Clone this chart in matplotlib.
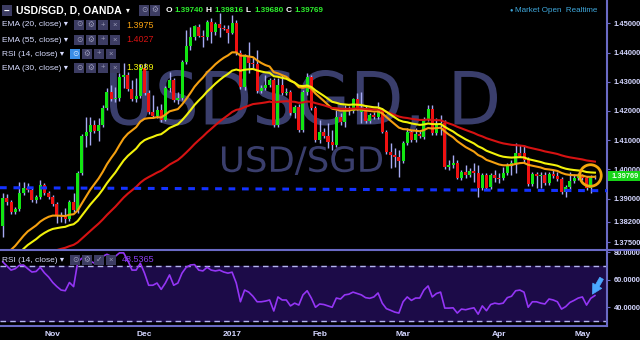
import numpy as np
import pandas as pd
import matplotlib
matplotlib.use('Agg')
import matplotlib.pyplot as plt
from matplotlib import font_manager
from matplotlib.textpath import TextPath
from matplotlib.patches import PathPatch, Rectangle
from matplotlib.transforms import Affine2D
from matplotlib.lines import Line2D

# 字体：优先窄体
names = {f.name for f in font_manager.fontManager.ttflist}
FONT = 'Liberation Sans Narrow' if 'Liberation Sans Narrow' in names else 'Liberation Sans'
plt.rcParams['font.family'] = [FONT, 'DejaVu Sans']

# ---------------- data ----------------
holidays = ['2016-12-26', '2017-01-02']
dates = pd.bdate_range('2016-10-14', '2017-05-04')
dates = dates[~dates.isin(pd.to_datetime(holidays))]

opens = [
    1.3806, 1.3902, 1.3888, 1.3854, 1.3864, 1.3919, 1.3936, 1.3929, 1.3895, 1.3905,
    1.3946, 1.3919, 1.3905, 1.3881, 1.3840, 1.3837, 1.3830, 1.3888, 1.3861, 1.3987,
    1.4114, 1.4128, 1.4152, 1.4131, 1.4152, 1.4210, 1.4265, 1.4241, 1.4245, 1.4317,
    1.4323, 1.4275, 1.4241, 1.4251, 1.4347, 1.4262, 1.4197, 1.4183, 1.4203, 1.4169,
    1.4279, 1.4306, 1.4238, 1.4245, 1.4368, 1.4423, 1.4454, 1.4488, 1.4457, 1.4454,
    1.4505, 1.4471, 1.4498, 1.4484, 1.4481, 1.4467, 1.4502, 1.4399, 1.4282, 1.4388,
    1.4364, 1.4361, 1.4269, 1.4279, 1.4289, 1.4306, 1.4152, 1.4289, 1.4262, 1.4265,
    1.4193, 1.4214, 1.4135, 1.4265, 1.4317, 1.4210, 1.4101, 1.4128, 1.4114, 1.4094,
    1.4083, 1.4179, 1.4162, 1.4203, 1.4200, 1.4241, 1.4197, 1.4207, 1.4166, 1.4186,
    1.4179, 1.4203, 1.4128, 1.4059, 1.4049, 1.4042, 1.4029, 1.4090, 1.4128, 1.4101,
    1.4121, 1.4111, 1.4173, 1.4207, 1.4125, 1.4152, 1.4159, 1.4008, 1.4015, 1.4022,
    1.3970, 1.3991, 1.3981, 1.3994, 1.3987, 1.3936, 1.3981, 1.3939, 1.3981, 1.3970,
    1.3970, 1.3987, 1.4011, 1.4022, 1.4056, 1.4056, 1.4035, 1.3950, 1.3984, 1.3977,
    1.3981, 1.3953, 1.3984, 1.3977, 1.3967, 1.3922, 1.3939, 1.3960, 1.3970, 1.3977,
    1.3970, 1.3936, 1.3974]
highs = [
    1.3919, 1.3915, 1.3895, 1.3871, 1.3957, 1.3957, 1.3953, 1.3936, 1.3912, 1.3963,
    1.3953, 1.3926, 1.3912, 1.3888, 1.3854, 1.3867, 1.3895, 1.3919, 1.3994, 1.4121,
    1.4179, 1.4179, 1.4169, 1.4176, 1.4221, 1.4279, 1.4289, 1.4282, 1.4330, 1.4364,
    1.4334, 1.4306, 1.4313, 1.4361, 1.4364, 1.4272, 1.4255, 1.4217, 1.4224, 1.4286,
    1.4334, 1.4313, 1.4265, 1.4375, 1.4478, 1.4488, 1.4495, 1.4498, 1.4478, 1.4512,
    1.4519, 1.4505, 1.4536, 1.4495, 1.4495, 1.4529, 1.4512, 1.4409, 1.4395, 1.4436,
    1.4385, 1.4409, 1.4289, 1.4323, 1.4313, 1.4313, 1.4313, 1.4323, 1.4279, 1.4272,
    1.4221, 1.4224, 1.4272, 1.4330, 1.4323, 1.4217, 1.4169, 1.4142, 1.4159, 1.4135,
    1.4203, 1.4193, 1.4221, 1.4217, 1.4245, 1.4262, 1.4265, 1.4221, 1.4193, 1.4197,
    1.4231, 1.4210, 1.4135, 1.4090, 1.4073, 1.4066, 1.4097, 1.4142, 1.4135, 1.4142,
    1.4131, 1.4179, 1.4221, 1.4221, 1.4176, 1.4186, 1.4169, 1.4032, 1.4049, 1.4032,
    1.3998, 1.4015, 1.4005, 1.4022, 1.4015, 1.3987, 1.3987, 1.3987, 1.3998, 1.3987,
    1.4008, 1.4022, 1.4032, 1.4090, 1.4083, 1.4083, 1.4042, 1.3991, 1.3991, 1.3991,
    1.3991, 1.3991, 1.3998, 1.3991, 1.3974, 1.3946, 1.3991, 1.3984, 1.3987, 1.3984,
    1.3977, 1.3981, 1.39816]
lows = [
    1.3768, 1.3878, 1.3847, 1.3847, 1.3857, 1.3912, 1.3922, 1.3888, 1.3885, 1.3898,
    1.3912, 1.3898, 1.3874, 1.3816, 1.3819, 1.3816, 1.3823, 1.3854, 1.3850, 1.3981,
    1.4077, 1.4083, 1.4125, 1.4097, 1.4145, 1.4203, 1.4234, 1.4231, 1.4234, 1.4279,
    1.4269, 1.4234, 1.4231, 1.4245, 1.4255, 1.4190, 1.4176, 1.4176, 1.4162, 1.4166,
    1.4265, 1.4231, 1.4224, 1.4238, 1.4361, 1.4409, 1.4443, 1.4454, 1.4419, 1.4443,
    1.4433, 1.4460, 1.4454, 1.4478, 1.4433, 1.4464, 1.4392, 1.4275, 1.4272, 1.4330,
    1.4347, 1.4262, 1.4262, 1.4272, 1.4282, 1.4145, 1.4145, 1.4255, 1.4255, 1.4186,
    1.4176, 1.4128, 1.4128, 1.4255, 1.4203, 1.4094, 1.4090, 1.4107, 1.4073, 1.4066,
    1.4077, 1.4152, 1.4145, 1.4186, 1.4193, 1.4203, 1.4159, 1.4159, 1.4159, 1.4173,
    1.4173, 1.4125, 1.4053, 1.4005, 1.4008, 1.3974, 1.4022, 1.4083, 1.4094, 1.4094,
    1.4107, 1.4104, 1.4166, 1.4118, 1.4118, 1.4118, 1.4001, 1.3998, 1.4005, 1.3967,
    1.3963, 1.3970, 1.3974, 1.3957, 1.3905, 1.3929, 1.3929, 1.3933, 1.3957, 1.3953,
    1.3963, 1.3981, 1.3981, 1.3987, 1.4042, 1.4022, 1.3943, 1.3943, 1.3936, 1.3936,
    1.3946, 1.3946, 1.3970, 1.3960, 1.3915, 1.3905, 1.3933, 1.3953, 1.3963, 1.3963,
    1.3929, 1.3919, 1.3968]
closes = [
    1.3902, 1.3888, 1.3854, 1.3864, 1.3919, 1.3936, 1.3929, 1.3895, 1.3905, 1.3946,
    1.3919, 1.3905, 1.3881, 1.3840, 1.3837, 1.3830, 1.3888, 1.3861, 1.3987, 1.4114,
    1.4128, 1.4152, 1.4131, 1.4152, 1.4210, 1.4265, 1.4241, 1.4245, 1.4317, 1.4323,
    1.4275, 1.4241, 1.4251, 1.4347, 1.4262, 1.4197, 1.4183, 1.4203, 1.4169, 1.4279,
    1.4306, 1.4238, 1.4245, 1.4368, 1.4423, 1.4454, 1.4491, 1.4457, 1.4454, 1.4505,
    1.4471, 1.4498, 1.4484, 1.4481, 1.4467, 1.4502, 1.4399, 1.4282, 1.4388, 1.4364,
    1.4361, 1.4269, 1.4279, 1.4289, 1.4306, 1.4152, 1.4289, 1.4262, 1.4265, 1.4193,
    1.4214, 1.4135, 1.4265, 1.4317, 1.4210, 1.4101, 1.4128, 1.4114, 1.4094, 1.4083,
    1.4179, 1.4162, 1.4203, 1.4200, 1.4241, 1.4210, 1.4207, 1.4166, 1.4186, 1.4179,
    1.4203, 1.4128, 1.4059, 1.4049, 1.4042, 1.4029, 1.4090, 1.4128, 1.4101, 1.4121,
    1.4114, 1.4173, 1.4207, 1.4125, 1.4152, 1.4159, 1.4008, 1.4015, 1.4022, 1.3970,
    1.3991, 1.3981, 1.3994, 1.3987, 1.3936, 1.3981, 1.3936, 1.3981, 1.3970, 1.3967,
    1.3987, 1.4015, 1.4022, 1.4056, 1.4046, 1.4032, 1.3950, 1.3984, 1.3977, 1.3981,
    1.3953, 1.3984, 1.3977, 1.3967, 1.3922, 1.3939, 1.3960, 1.3970, 1.3977, 1.3970,
    1.3936, 1.3970, 1.39769]
rsi = [
    73, 70, 67, 68, 70.5, 70.7, 68, 65.6, 66, 69,
    65, 62, 58, 55, 52.5, 52, 58, 55, 73, 75.6,
    74.5, 73.5, 72, 73, 77, 78.5, 77, 77, 79.5, 79.5,
    74, 67, 67, 72, 64.8, 56, 56, 57.6, 53, 57.6,
    63.5, 56, 57.6, 64.8, 69, 70.7, 71, 67, 66.4, 69,
    67, 66.4, 67, 65.6, 64.8, 65.5, 57.6, 44, 52.5, 51,
    48, 44, 44, 44.5, 45.3, 37.3, 47.5, 45.3, 45.3, 41,
    43, 41.6, 49, 52, 46.7, 40, 42.4, 42, 41, 40,
    46.7, 46, 49, 49.5, 51, 50, 49, 47, 46.5, 47.5,
    50.4, 43, 39, 37.8, 36.5, 35.8, 44, 47.5, 45, 46.7,
    46.7, 52.5, 55.5, 47.5, 50, 51, 39.4, 39.4, 39.6, 35.8,
    38.7, 38.2, 39, 39.6, 35, 41, 37.5, 42, 43, 42.4,
    43, 47, 48, 52, 52.5, 51, 40, 44, 44, 43,
    42.4, 46, 45.3, 44, 38.7, 40.5, 43.5, 45, 46.7, 47.5,
    41.6, 46.5, 48.5365]

# EMA 参数（起始值从图中读取）
ema_periods = [20, 55, 30]
ema_seeds = [1.367, 1.3607, 1.3645]
ema_colors = ['#f5a010', '#d61212', '#f2f20a']
ema_values = ['1.3975', '1.4027', '1.3989']

trend_levels = [1.3937, 1.3927]   # 蓝色虚线支撑线（首、末K线处）

price_ticks = [1.375, 1.382, 1.39, 1.40, 1.41, 1.42, 1.43, 1.44, 1.45]
rsi_ticks = [40, 60, 80]
month_keys = ['2016-11', '2016-12', '2017-01', '2017-02', '2017-03', '2017-04', '2017-05']
month_labels = ['Nov', 'Dec', '2017', 'Feb', 'Mar', 'Apr', 'May']

header_ohlc = [('O', '1.39740'), ('H', '1.39816'), ('L', '1.39680'), ('C', '1.39769')]
rsi_last = '48.5365'

# ---------------- helpers ----------------
W, H = 640, 340
AXC = '#d4d6ff'
LINEC = '#6a6ac4'


def ema(vals, period, seed):
    a = 2.0 / (period + 1)
    out, e = [], seed
    for v in vals:
        e = e + a * (v - e)
        out.append(e)
    return np.array(out)


def ptxt(x, y, s, **kw):
    kw.setdefault('va', 'center')
    return fig.text(x / W, 1 - y / H, s, **kw)


def pbox(x, y, w, h, fc):
    fig.add_artist(Rectangle((x / W, 1 - (y + h) / H), w / W, h / H,
                             transform=fig.transFigure, fc=fc, ec='none'))


def watermark(ax, s, box, color):
    tp = TextPath((0, 0), s, size=100, prop=font_manager.FontProperties(family='DejaVu Sans'))
    ext = tp.get_extents()
    x0, y0, x1, y1 = box
    tr = (Affine2D().translate(-ext.x0, -ext.y0)
          .scale((x1 - x0) / ext.width, (y1 - y0) / ext.height)
          .translate(x0, y0))
    ax.add_patch(PathPatch(tr.transform_path(tp), transform=ax.transAxes,
                           fc=color, ec='none', zorder=1))


# ---------------- figure ----------------
fig = plt.figure(figsize=(6.4, 3.4), dpi=100, facecolor='black')
ax = fig.add_axes([0, 1 - 249 / H, 607 / W, 249 / H], facecolor='black')
rax = fig.add_axes([0, 1 - 326 / H, 607 / W, 76 / H], facecolor='black')

x = np.arange(len(closes))
o = np.array(opens); c = np.array(closes)
hi = np.array(highs); lo = np.array(lows)

# 水印
watermark(ax, 'USDSGD, D', (110 / 607, 1 - 133 / 249, 497 / 607, 1 - 70 / 249), '#3a3e6c')
watermark(ax, 'USD/SGD', (222 / 607, 1 - 175 / 249, 382 / 607, 1 - 146 / 249), '#3a3e6c')

# K线
ax.vlines(x, lo, hi, color='#a6aaf2', lw=1, zorder=3)
up = c >= o
body_h = np.maximum(np.abs(c - o), 0.00012)
ax.bar(x, body_h, bottom=np.minimum(o, c), width=0.72,
       color=np.where(up, '#12e612', '#ee1111'), lw=0, zorder=4)

# EMA
for p, s, col in zip(ema_periods, ema_seeds, ema_colors):
    ax.plot(x, ema(closes, p, s), color=col, lw=1.5, zorder=5)

# 支撑线
ax.axline((x[0], trend_levels[0]), (x[-1], trend_levels[1]), color='#1432ff',
          lw=2.2, ls=(0, (2.2, 2.2)), zorder=6)

# 圈
ax.plot(x[-1] - 1.2, closes[-1] + 0.0004, 'o', ms=15.5, mfc='none', mec='#f2a60c',
        mew=2, zorder=7)

ax.set_xlim(-0.65, 144.9)
ax.set_ylim(1.37269, 1.45805)
ax.set_yticks(price_ticks)
ax.set_yticklabels(['%.5f' % t for t in price_ticks])
ax.yaxis.tick_right()
ax.tick_params(axis='y', colors=LINEC, labelcolor=AXC, labelsize=5.4, length=2, pad=3)
ax.set_xticks([])
for lab in ax.get_yticklabels():
    lab.set_fontweight('bold')
for sp in ['top', 'left', 'bottom']:
    ax.spines[sp].set_visible(False)
ax.spines['right'].set_color(LINEC)
ax.spines['right'].set_linewidth(1.5)

# RSI
rax.axhspan(30, 70, color='#1c0b48', zorder=1)
for lvl in (30, 70):
    rax.axhline(lvl, color='#b4b4f0', lw=1, ls=(0, (4, 3)), zorder=2)
rax.plot(x, rsi, color='#9435f5', lw=1.2, zorder=3)
rax.set_xlim(-0.65, 144.9)
rax.set_ylim(26.4, 81.6)
rax.set_yticks(rsi_ticks)
rax.set_yticklabels(['%.4f' % t for t in rsi_ticks])
rax.yaxis.tick_right()
rax.tick_params(axis='y', colors=LINEC, labelcolor=AXC, labelsize=5.4, length=2, pad=3)
ticks = [int(np.argmax(dates.strftime('%Y-%m') == m)) for m in month_keys]
rax.set_xticks(ticks)
rax.set_xticklabels(month_labels)
rax.tick_params(axis='x', colors=LINEC, labelcolor=AXC, labelsize=6, length=0, pad=3.5)
for lab in rax.get_yticklabels() + rax.get_xticklabels():
    lab.set_fontweight('bold')
for sp in ['top', 'left']:
    rax.spines[sp].set_visible(False)
for sp in ['right', 'bottom']:
    rax.spines[sp].set_color(LINEC)
    rax.spines[sp].set_linewidth(1.5)

# 指向最新RSI的箭头
rax.annotate('', xy=(x[-1] - 0.6, rsi[-1] + 1.0), xytext=(x[-1] + 1.6, rsi[-1] + 12.5),
             annotation_clip=False,
             arrowprops=dict(arrowstyle='simple,head_length=0.7,head_width=0.75,tail_width=0.3',
                             shrinkA=0, shrinkB=0, mutation_scale=10,
                             fc='#4aa8ff', ec='#4aa8ff', lw=0.5))

# 分隔线
fig.add_artist(Line2D([0, 1], [1 - 249.5 / H, 1 - 249.5 / H], transform=fig.transFigure,
                      color=LINEC, lw=1.5))

# 最新价标签
pbox(607.5, 171, 32.5, 10, '#17d417')
ptxt(612, 176, '%.5f' % closes[-1], color='#eaffea', fontsize=5.4, fontweight='bold')

# ---------------- 标题与图例 ----------------
pbox(2, 5, 10, 11, '#3c3c62')
ptxt(3.5, 10.5, '−', color='white', fontsize=7, fontweight='bold')
ptxt(16, 10.5, 'USD/SGD, D, OANDA', color='white', fontsize=7.6, fontweight='bold')
ptxt(126, 11, '▾', color='white', fontsize=5.5)
for bx, sym in zip([139, 150], ['⊙', '⚙']):
    pbox(bx, 5, 10, 11, '#3c3c62')
    ptxt(bx + 5, 10.5, sym, color='#9a9ab8', fontsize=5.5, ha='center')
hx = 166
for lbl, val in header_ohlc:
    ptxt(hx, 10.5, lbl, color='white', fontsize=6, fontweight='bold')
    ptxt(hx + 8.5, 10.5, val, color='#2ef02e', fontsize=5.8, fontweight='bold')
    hx += 40
ptxt(509, 10, '●', color='#3fa8dc', fontsize=4)
ptxt(515, 10, 'Market Open  Realtime', color='#3fa8dc', fontsize=5.8)

legend_rows = [('EMA (20, close)', 25, 74, ema_values[0], ema_colors[0], False),
               ('EMA (55, close)', 40, 74, ema_values[1], ema_colors[1], False),
               ('RSI (14, close)', 54, 70, None, None, True),
               ('EMA (30, close)', 68, 74, ema_values[2], ema_colors[2], False),
               ('RSI (14, close)', 260, 70, rsi_last, '#8a3ef0', False)]
for txt, yy, bx0, val, vcol, hl in legend_rows:
    ptxt(2, yy, txt + ' ▾', color='#d8dcff', fontsize=6)
    syms = ['⊙', '⚙', '✓' if yy > 200 else '+', '×']
    for k, sym in enumerate(syms):
        bx = bx0 + k * 12
        fc = '#3a8ee6' if (hl and k == 0) else '#3c3c62'
        pbox(bx, yy - 5, 10, 10, fc)
        ptxt(bx + 5, yy, sym, color='#d0e4ff' if (hl and k == 0) else '#9a9ab8',
             fontsize=5.5, ha='center')
    if val:
        ptxt(126 if yy < 200 else 122, yy, val, color=vcol, fontsize=6.5)

fig.savefig('out.png', dpi=100, facecolor='black')
